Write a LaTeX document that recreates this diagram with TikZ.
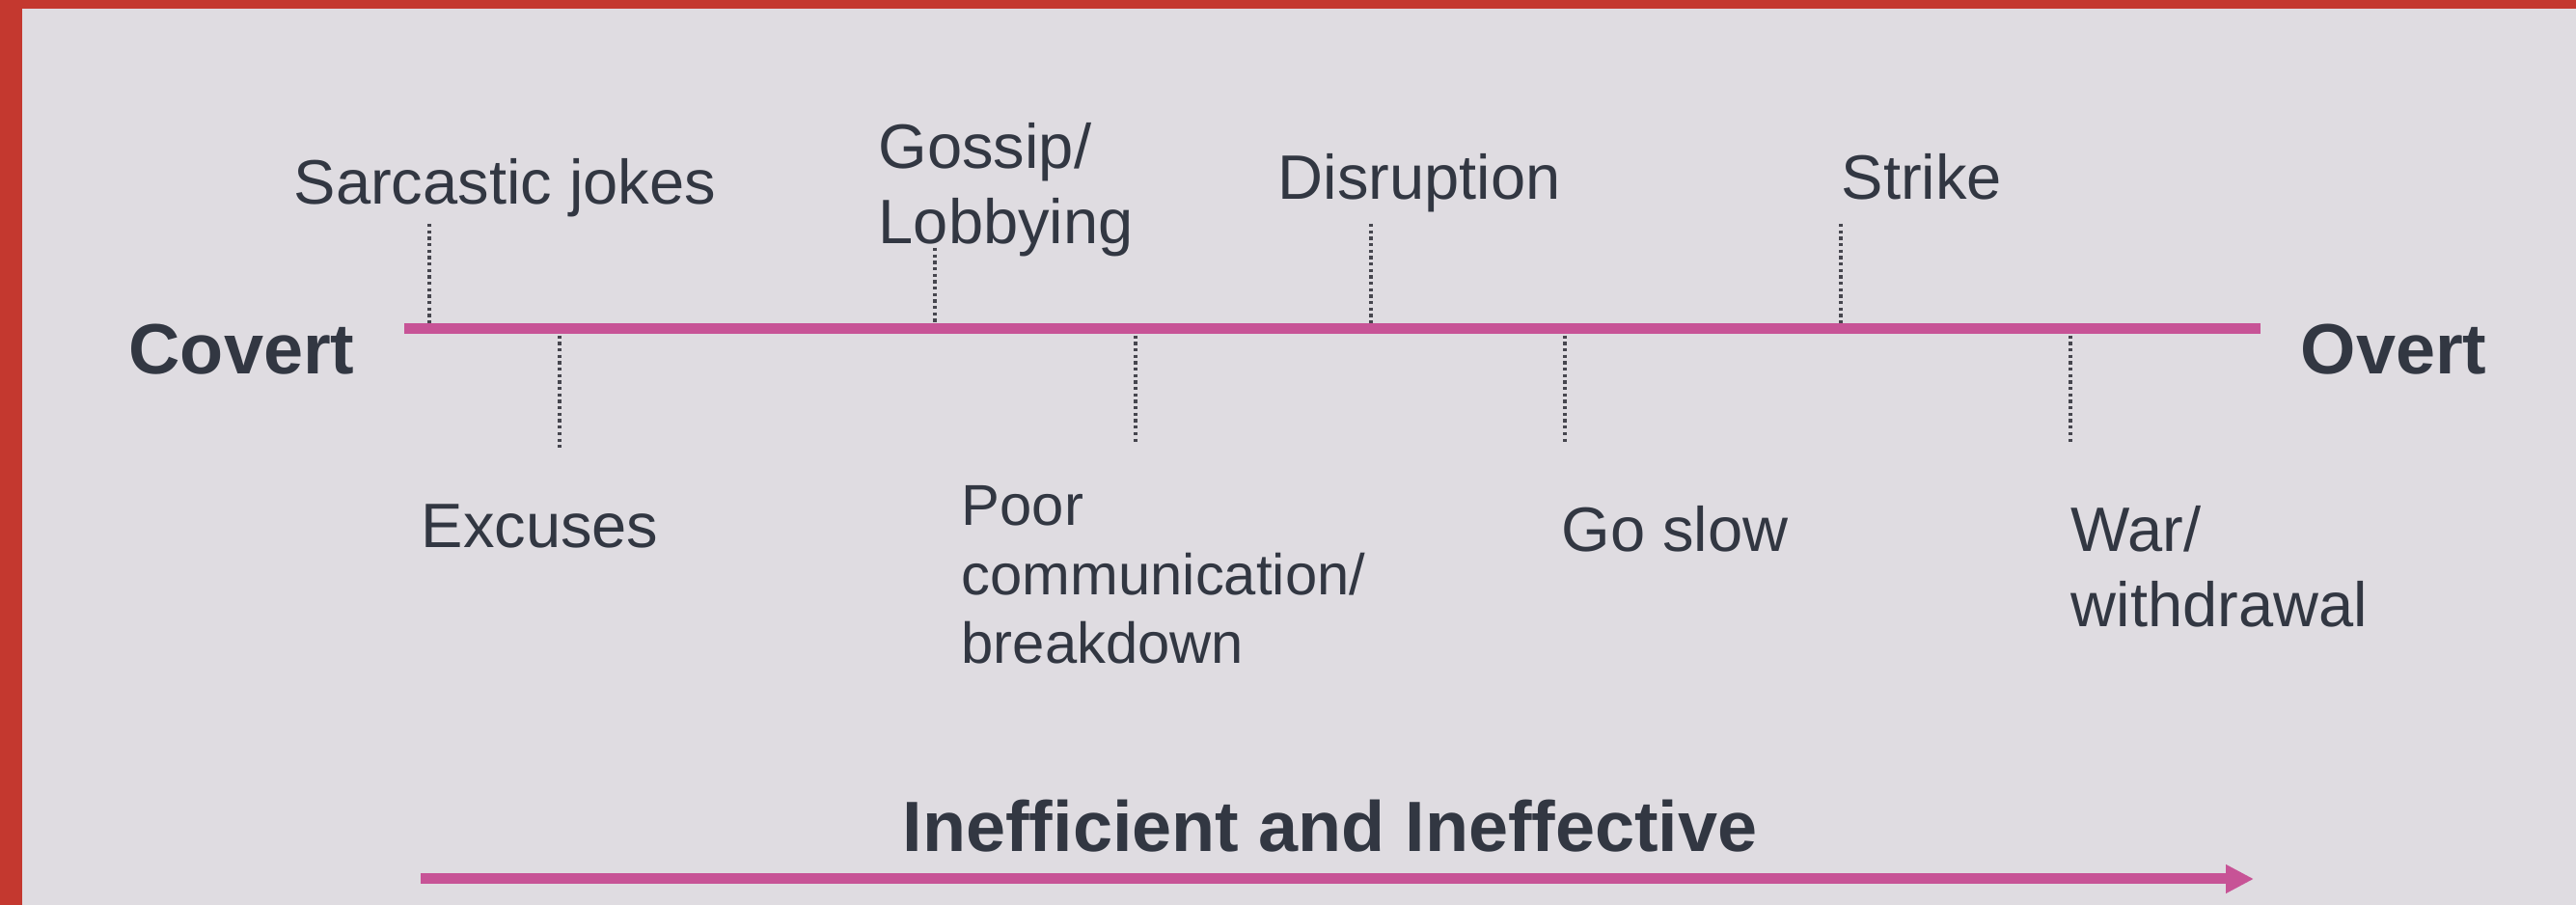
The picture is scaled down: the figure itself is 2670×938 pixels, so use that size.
\documentclass[tikz,border=0pt]{standalone}
\usepackage{fontspec}
\setmainfont{Liberation Sans}
\usetikzlibrary{arrows.meta}
\definecolor{bgGray}{RGB}{223,220,225}
\definecolor{frameRed}{RGB}{196,56,47}
\definecolor{lineMag}{RGB}{199,83,150}
\definecolor{inkDark}{RGB}{50,55,66}
\definecolor{tickGray}{RGB}{70,70,78}
\tikzset{every node/.append style={inner sep=0pt,text=inkDark}}
\tikzset{
	label/.style={anchor=base west,align=left,font=\fontsize{18.5}{22.2}\selectfont},
	small label/.style={label,font=\fontsize{17}{20.4}\selectfont},
	pole/.style={anchor=base west,font=\bfseries\fontsize{21}{25}\selectfont},
	tickline/.style={draw=tickGray,line width=0.9pt,dash pattern=on 0.9pt off 1pt},
	axis/.style={draw=lineMag,line width=1.1mm}
}

\begin{document}
\begin{tikzpicture}[x=0.1mm,y=-0.1mm]
	\useasboundingbox (0,0) rectangle (2670,938);
	\fill[bgGray] (0,0) rectangle (2670,938);
	\fill[frameRed] (0,0) rectangle (23,938);
	\fill[frameRed] (0,0) rectangle (2670,9);
	% ends of the scale
	\node[pole] (covert) at (133,388) {Covert};
	\node[pole] (overt) at (2384,388) {Overt};
	\coordinate (lstart) at (419,341);
	\coordinate (lend) at (2343,341);
	% labels above the line (base = last line)
	\node[label] (sarcastic) at (304,212) {Sarcastic jokes};
	\node[label] (gossip) at (910,253) {Gossip/\\Lobbying};
	\node[label] (disruption) at (1324,207) {Disruption};
	\node[label] (strike) at (1908,207) {Strike};
	% labels below the line
	\node[label] (excuses) at (436,568) {Excuses};
	\node[small label] (poorcomm) at (996,688) {Poor\\communication/\\breakdown};
	\node[label] (goslow) at (1618,572) {Go slow};
	\node[label] (war) at (2146,650) {War/\\withdrawal};
	% tick ends
	\coordinate (sarcastic-t) at (445,232);   \coordinate (sarcastic-l) at (445,341);
	\coordinate (gossip-t) at (969,257);      \coordinate (gossip-l) at (969,341);
	\coordinate (disruption-t) at (1421,232); \coordinate (disruption-l) at (1421,341);
	\coordinate (strike-t) at (1908,232);     \coordinate (strike-l) at (1908,341);
	\coordinate (excuses-l) at (580,341);     \coordinate (excuses-b) at (580,465);
	\coordinate (poorcomm-l) at (1177,341);   \coordinate (poorcomm-b) at (1177,458);
	\coordinate (goslow-l) at (1622,341);     \coordinate (goslow-b) at (1622,460);
	\coordinate (war-l) at (2146,341);        \coordinate (war-b) at (2146,460);
	\draw[tickline] (sarcastic-t) -- (sarcastic-l);
	\draw[tickline] (gossip-t) -- (gossip-l);
	\draw[tickline] (disruption-t) -- (disruption-l);
	\draw[tickline] (strike-t) -- (strike-l);
	\draw[tickline] (excuses-l) -- (excuses-b);
	\draw[tickline] (poorcomm-l) -- (poorcomm-b);
	\draw[tickline] (goslow-l) -- (goslow-b);
	\draw[tickline] (war-l) -- (war-b);
	\draw[axis] (lstart) -- (lend);
	% bottom arrow
	\node[pole] (ineff) at (935,882) {Inefficient and Ineffective};
	\coordinate (astart) at (436,911);
	\coordinate (aend) at (2336,911);
	\draw[axis,-{Triangle[length=2.9mm,width=2.8mm]}] (astart) -- (aend);
\end{tikzpicture}
\end{document}
